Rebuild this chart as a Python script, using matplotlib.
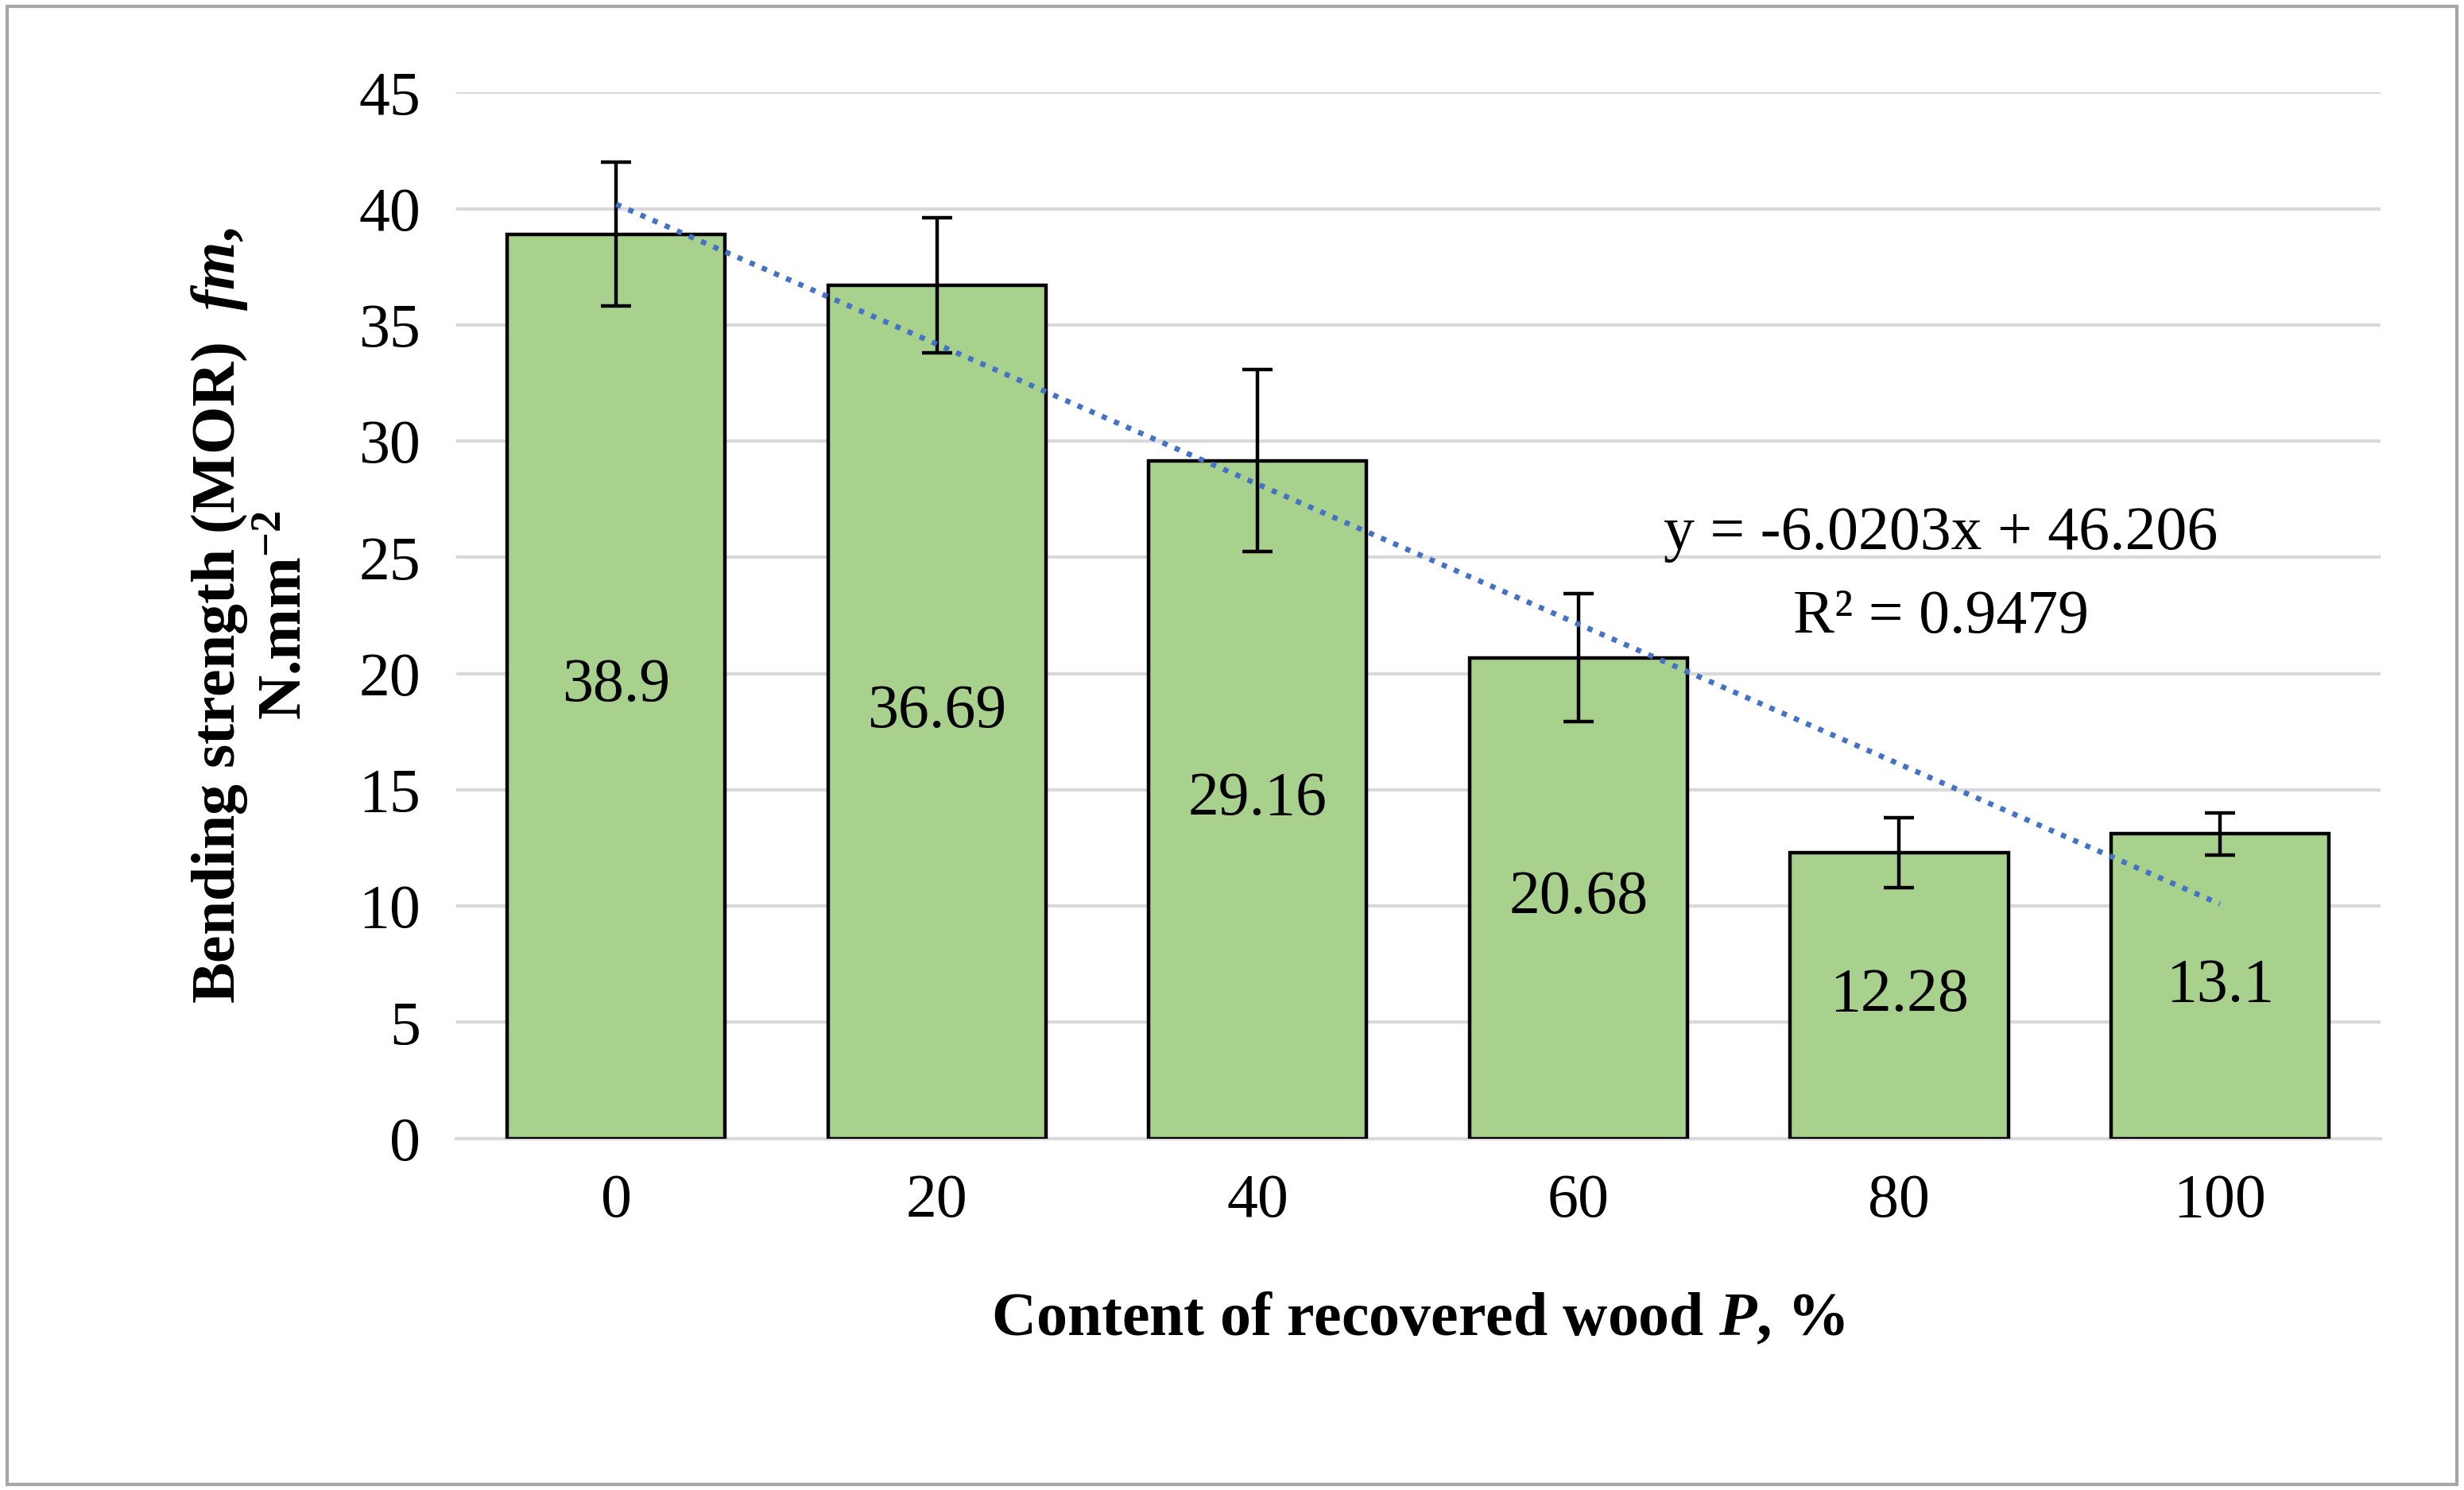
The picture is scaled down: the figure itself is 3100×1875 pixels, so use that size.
import matplotlib
matplotlib.use("Agg")
import matplotlib.pyplot as plt
import numpy as np

categories = ["0", "20", "40", "60", "80", "100"]
values = [38.9, 36.69, 29.16, 20.68, 12.28, 13.1]
errors = [3.1, 2.9, 3.9, 2.75, 1.5, 0.9]
value_labels = ["38.9", "36.69", "29.16", "20.68", "12.28", "13.1"]
trend_slope, trend_icept = -6.0203, 46.206

plt.rcParams["font.family"] = ["Liberation Serif", "DejaVu Serif"]
plt.rcParams["mathtext.fontset"] = "custom"
plt.rcParams["mathtext.it"] = "Liberation Serif:italic:bold"
plt.rcParams["mathtext.rm"] = "Liberation Serif:bold"

FS = 28

fig = plt.figure(figsize=(15.5, 9.375), dpi=200)
ax = fig.add_axes([0.185, 0.236, 0.781, 0.702])
fig.patches.append(plt.Rectangle((0.003, 0.004), 0.994, 0.992, transform=fig.transFigure,
                                 fill=False, ec="#a6a6a6", lw=1.5))

x = np.arange(len(categories))
ax.bar(x, values, width=0.68, color="#A9D18E", edgecolor="black", lw=1.6, zorder=3)
ax.errorbar(x, values, yerr=errors, fmt="none", ecolor="black", elinewidth=1.6,
            capsize=7, capthick=1.6, zorder=4)
for xi, v, lab in zip(x, values, value_labels):
    ax.text(xi, v / 2, lab, ha="center", va="center", fontsize=FS, zorder=5)

xt = x + 1
ax.plot(x, trend_slope * xt + trend_icept, ls=(0, (1, 1.5)), color="#4472C4", lw=2.4, zorder=6)
ax.text(4.13, 26.0, "y = -6.0203x + 46.206", ha="center", va="center", fontsize=FS)
ax.text(4.13, 22.4, "R² = 0.9479", ha="center", va="center", fontsize=FS)

ax.set_xlim(-0.5, 5.5)
ax.set_ylim(0, 45)
ax.set_yticks(np.arange(0, 46, 5))
ax.set_xticks(x)
ax.set_xticklabels(categories)
ax.tick_params(labelsize=FS, length=0, pad=16)
ax.yaxis.grid(True, color="#d9d9d9", lw=1.5, zorder=0)
for s in ["top", "right", "left"]:
    ax.spines[s].set_visible(False)
ax.spines["bottom"].set_color("#d9d9d9")
ax.spines["bottom"].set_linewidth(1.5)

ax.set_xlabel(r"Content of recovered wood $P$, %", fontsize=FS, fontweight="bold", labelpad=28)
ax.set_ylabel("Bending strength (MOR)  $fm$,\nN.mm$^{-2}$", fontsize=FS, fontweight="bold",
              labelpad=20, linespacing=1.2)

fig.savefig("out.png", dpi=200)
